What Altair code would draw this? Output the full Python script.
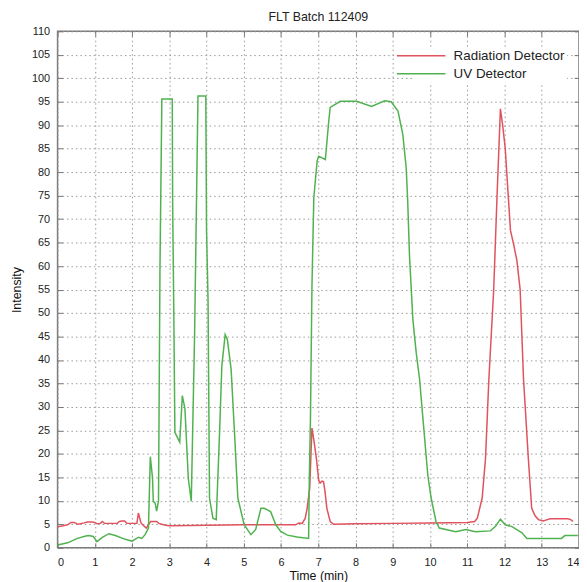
import altair as alt
import pandas as pd

series_names = ["Radiation Detector", "UV Detector"]
series_colors = ["#e0525e", "#4fb24f"]

rad_t = [0, 0.15, 0.27, 0.36, 0.45, 0.55, 0.71, 0.8, 0.93, 1.0, 1.06, 1.15, 1.2, 1.26, 1.6, 1.66,
         1.72, 1.8, 1.86, 2.13, 2.17, 2.24, 2.3, 2.38, 2.45, 2.5, 2.66, 2.72, 2.8, 2.9, 3.0, 4.0,
         5.0, 6.0, 6.39, 6.48, 6.57, 6.65, 6.70, 6.77, 6.83, 6.88, 6.95, 7.01, 7.05, 7.1, 7.14,
         7.18, 7.23, 7.32, 7.41, 8.0, 9.0, 10.0, 11.0, 11.2, 11.27, 11.4, 11.49, 11.58, 11.71,
         11.8, 11.89, 11.95, 12.02, 12.1, 12.16, 12.24, 12.33, 12.42, 12.51, 12.64, 12.73, 12.82,
         12.91, 13.04, 13.15, 13.22, 13.5, 13.7, 13.78, 13.84]
rad_v = [4.5, 4.7, 4.9, 5.4, 5.4, 5.0, 5.3, 5.5, 5.5, 5.4, 5.1, 5.2, 5.6, 5.2, 5.2, 5.6,
         5.7, 5.7, 5.2, 5.2, 7.4, 5.3, 4.8, 4.2, 5.0, 5.6, 5.6, 5.2, 5.0, 4.8, 4.7, 4.8,
         4.9, 4.9, 4.9, 5.3, 5.2, 6.3, 8.4, 12.7, 25.5, 23.0, 19.0, 14.4, 13.8, 14.2, 14.1,
         12.0, 8.4, 5.6, 5.0, 5.1, 5.2, 5.3, 5.4, 5.6, 6.3, 10.6, 19.0, 35.9, 55.0,
         75.0, 93.5, 90.0, 85.0, 75.0, 67.6, 64.8, 61.3, 55.0, 36.0, 19.0, 8.4, 6.8,
         6.0, 5.7, 6.0, 6.2, 6.2, 6.2, 6.0, 5.6]

uv_t = [0, 0.27, 0.53, 0.76, 0.84, 0.96, 1.06, 1.2, 1.38, 1.55, 1.82, 2.0, 2.17, 2.26, 2.35,
        2.44, 2.49, 2.55, 2.57, 2.62, 2.66, 2.71, 2.75, 2.80, 3.08, 3.09, 3.12, 3.15, 3.28,
        3.35, 3.42, 3.51, 3.59, 3.68, 3.70, 3.77, 3.98, 4.00, 4.04, 4.08, 4.17, 4.26, 4.35,
        4.41, 4.50, 4.56, 4.66, 4.75, 4.84, 5.01, 5.19, 5.32, 5.46, 5.55, 5.72, 5.86, 5.99,
        6.17, 6.43, 6.74, 6.76, 6.79, 6.83, 6.88, 6.97, 7.01, 7.19, 7.28, 7.32, 7.59, 8.03,
        8.43, 8.78, 8.96, 9.14, 9.27, 9.36, 9.40, 9.45, 9.54, 9.63, 9.72, 9.81, 9.94, 10.03,
        10.16, 10.25, 10.69, 10.96, 11.22, 11.62, 11.76, 11.89, 12.02, 12.2, 12.47, 12.6,
        13.09, 13.53, 13.62, 13.97]
uv_v = [0.6, 1.06, 2.0, 2.5, 2.6, 2.4, 1.3, 2.2, 3.0, 2.6, 1.8, 1.4, 2.25, 2.0, 2.8,
        4.2, 19.4, 14.8, 9.9, 9.5, 7.8, 10.0, 60.0, 95.6, 95.6, 73.0, 50.7, 24.6, 22.5,
        32.4, 29.6, 14.8, 9.9, 45.8, 57.0, 96.2, 96.2, 67.6, 52.8, 10.6, 6.3, 6.0, 24.6,
        38.7, 45.4, 44.3, 38.0, 24.6, 10.6, 4.9, 2.8, 3.9, 8.4, 8.4, 7.7, 4.9, 3.5,
        2.7, 2.3, 2.0, 15.0, 27.5, 55.6, 74.6, 82.4, 83.4, 82.7, 90.8, 93.8, 95.1, 95.1,
        94.0, 95.2, 95.0, 93.0, 88.0, 81.0, 74.0, 62.0, 48.6, 41.5, 35.9, 27.5, 15.5, 10.6,
        5.6, 4.2, 3.4, 3.9, 3.4, 3.6, 4.6, 6.1, 4.9, 4.5, 3.2, 2.0,
        2.0, 2.0, 2.6, 2.6]

x_ticks = list(range(0, 15))
y_ticks = list(range(0, 111, 5))

df = pd.concat([
    pd.DataFrame({"Time": rad_t, "Intensity": rad_v, "Series": series_names[0]}),
    pd.DataFrame({"Time": uv_t, "Intensity": uv_v, "Series": series_names[1]}),
])

FONT = "Liberation Sans"
xscale = alt.Scale(domain=[0, 14], nice=False, zero=False)
yscale = alt.Scale(domain=[0, 110], nice=False)

main = alt.Chart(df).mark_line(strokeWidth=1.5).encode(
    x=alt.X("Time:Q", scale=xscale,
            axis=alt.Axis(values=x_ticks, title="Time (min)", orient="bottom", domain=False,
                          grid=True, gridDash=[1.5, 3], gridColor="#9a9a9a", gridWidth=1,
                          tickSize=5, offset=-5, tickColor="#777", tickWidth=1,
                          labelPadding=9, titlePadding=2, format="d")),
    y=alt.Y("Intensity:Q", scale=yscale,
            axis=alt.Axis(values=y_ticks, title="Intensity", orient="left", domain=False,
                          grid=True, gridDash=[1.5, 3], gridColor="#9a9a9a", gridWidth=1,
                          tickSize=5, offset=-5, tickColor="#777", tickWidth=1,
                          labelPadding=8, titlePadding=8, format="d")),
    color=alt.Color("Series:N",
                    scale=alt.Scale(domain=series_names, range=series_colors),
                    legend=alt.Legend(title=None, orient="none", legendX=358, legendY=16,
                                      symbolType="M-4.9,0H4.9", symbolSize=100,
                                      symbolStrokeWidth=1.5, labelFontSize=13.5,
                                      labelFont=FONT, labelColor="#222", rowPadding=3,
                                      fillColor="white", padding=2, labelOffset=26)),
)

mirror = alt.Chart(df).mark_line(opacity=0).encode(
    x=alt.X("Time:Q", scale=xscale,
            axis=alt.Axis(values=x_ticks, title=None, orient="top", domain=False, grid=False,
                          labels=False, tickSize=5, offset=-5, tickColor="#777", tickWidth=1)),
    y=alt.Y("Intensity:Q", scale=yscale,
            axis=alt.Axis(values=y_ticks, title=None, orient="right", domain=False, grid=False,
                          labels=False, tickSize=5, offset=-5, tickColor="#777", tickWidth=1)),
)

chart = alt.layer(main, mirror).resolve_axis(x="independent", y="independent").properties(
    width=526, height=521,
    title=alt.Title("FLT Batch 112409", font=FONT, fontSize=12.5, fontWeight="normal",
                    color="#222", offset=2),
    autosize=alt.AutoSizeParams(type="none"),
    padding={"left": 50, "top": 21, "right": 0, "bottom": 32},
).configure_view(stroke="#7a7a7a", strokeWidth=1.5).configure_axis(
    labelFont=FONT, titleFont=FONT, labelFontSize=11, titleFontSize=12.5,
    titleFontWeight="normal", labelColor="#222", titleColor="#111",
)

chart.save("out.html", embed_options={"renderer": "svg", "actions": False})
